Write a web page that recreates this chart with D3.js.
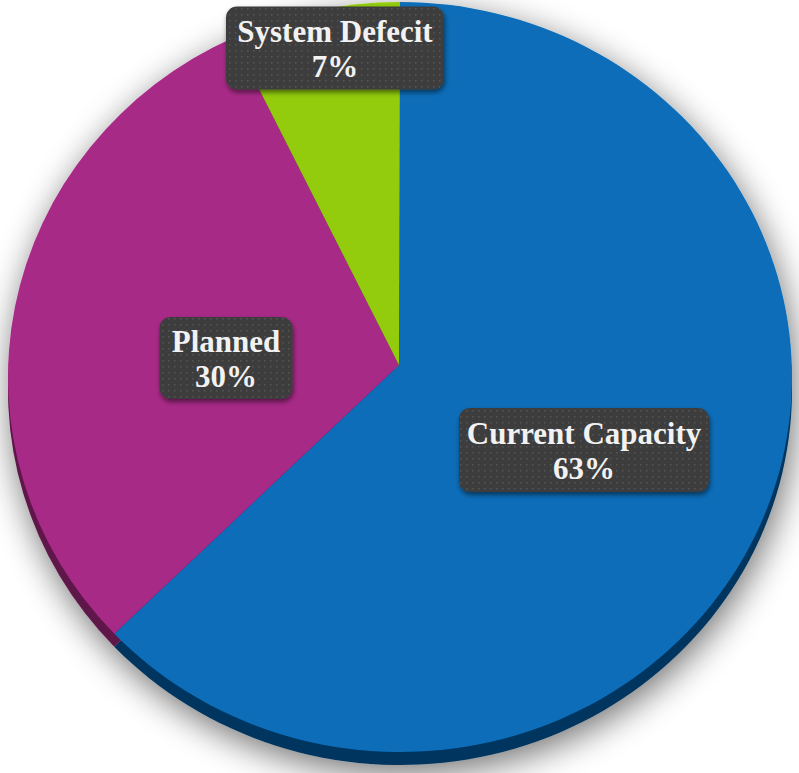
<!DOCTYPE html>
<html>
<head>
<meta charset="utf-8">
<script src="https://cdn.jsdelivr.net/npm/d3@7/dist/d3.min.js"></script>
<style>
  html, body { margin: 0; padding: 0; background: #ffffff; }
  svg { display: block; }
</style>
</head>
<body>
<div id="chart"></div>
<script>
// ---- data ----
const categories = ["Current Capacity", "Planned", "System Defecit"];
const values = [63, 30, 7];
const valueLabels = ["63%", "30%", "7%"];

// ---- styles / layout ----
const W = 799, H = 773;
const topColors = ["#086db8", "#a82a87", "#92cc0c"];
const sideColors = ["#06365e", "#5f1549", "#4e6e06"];
const ellipse = { cx: 400, cy: 377, rx: 392, ry: 375 };
const apex = { x: 399, y: 365 };
const depth = 13;
const labelBoxes = [
  { cx: 584, cy: 450, w: 250, h: 84 },
  { cx: 226, cy: 358, w: 133, h: 82 },
  { cx: 335, cy: 48,  w: 218, h: 83 }
];

const svg = d3.select("#chart").append("svg")
  .attr("width", W).attr("height", H);

const defs = svg.append("defs");

// soft shadow under pie
const sh = defs.append("filter").attr("id", "pieShadow")
  .attr("x", "-20%").attr("y", "-20%").attr("width", "140%").attr("height", "140%");
sh.append("feGaussianBlur").attr("in", "SourceAlpha").attr("stdDeviation", 17).attr("result", "b");
sh.append("feOffset").attr("in", "b").attr("dx", 3).attr("dy", 9).attr("result", "o");
sh.append("feComponentTransfer").attr("in", "o").attr("result", "s")
  .append("feFuncA").attr("type", "linear").attr("slope", 0.55);
const shm = sh.append("feMerge");
shm.append("feMergeNode").attr("in", "s");
shm.append("feMergeNode").attr("in", "SourceGraphic");

// box shadow
const bs = defs.append("filter").attr("id", "boxShadow")
  .attr("x", "-20%").attr("y", "-20%").attr("width", "140%").attr("height", "150%");
bs.append("feGaussianBlur").attr("in", "SourceAlpha").attr("stdDeviation", 2.5).attr("result", "b");
bs.append("feOffset").attr("in", "b").attr("dx", 1).attr("dy", 3).attr("result", "o");
bs.append("feComponentTransfer").attr("in", "o").attr("result", "s")
  .append("feFuncA").attr("type", "linear").attr("slope", 0.5);
const bsm = bs.append("feMerge");
bsm.append("feMergeNode").attr("in", "s");
bsm.append("feMergeNode").attr("in", "SourceGraphic");

// dotted pattern for label boxes
const pat = defs.append("pattern").attr("id", "dots")
  .attr("patternUnits", "userSpaceOnUse").attr("width", 6).attr("height", 6);
pat.append("rect").attr("width", 6).attr("height", 6).attr("fill", "#3d3d3d");
pat.append("rect").attr("x", 2).attr("y", 2).attr("width", 1.5).attr("height", 1.5).attr("fill", "#565656");

// pie angles (clockwise from 12 o'clock)
const pie = d3.pie().sort(null).value(d => d);
const arcs = pie(values);

function pt(angle, dy) {
  return [ellipse.cx + ellipse.rx * Math.sin(angle),
          ellipse.cy - ellipse.ry * Math.cos(angle) + dy];
}
function slicePath(a, dy) {
  const p = d3.path();
  const [x0, y0] = pt(a.startAngle, dy);
  const [x1, y1] = pt(a.endAngle, dy);
  const large = (a.endAngle - a.startAngle) > Math.PI ? 1 : 0;
  p.moveTo(apex.x, apex.y + dy);
  p.lineTo(x0, y0);
  return p.toString() + `A${ellipse.rx},${ellipse.ry} 0 ${large} 1 ${x1},${y1}Z`;
}

const g = svg.append("g").attr("filter", "url(#pieShadow)");

// 3D side (shifted copy)
g.selectAll("path.side").data(arcs).enter().append("path")
  .attr("class", "side")
  .attr("d", d => slicePath(d, depth))
  .attr("fill", (d, i) => sideColors[i]);

// top surface
g.selectAll("path.top").data(arcs).enter().append("path")
  .attr("class", "top")
  .attr("d", d => slicePath(d, 0))
  .attr("fill", (d, i) => topColors[i]);

// labels
const lg = svg.append("g");
arcs.forEach((a, i) => {
  const b = labelBoxes[i];
  const grp = lg.append("g").attr("transform", `translate(${b.cx},${b.cy})`);
  grp.append("rect")
    .attr("x", -b.w / 2).attr("y", -b.h / 2)
    .attr("width", b.w).attr("height", b.h)
    .attr("rx", 11).attr("ry", 11)
    .attr("fill", "url(#dots)")
    .attr("filter", "url(#boxShadow)");
  const t = grp.append("text")
    .attr("text-anchor", "middle")
    .attr("font-family", "'Liberation Serif', 'DejaVu Serif', serif")
    .attr("font-weight", "bold")
    .attr("font-size", 31)
    .attr("fill", "#f2f2f2");
  t.append("tspan").attr("x", 0).attr("y", -6).text(categories[i]);
  t.append("tspan").attr("x", 0).attr("y", 29).text(valueLabels[i]);
});
</script>
</body>
</html>
